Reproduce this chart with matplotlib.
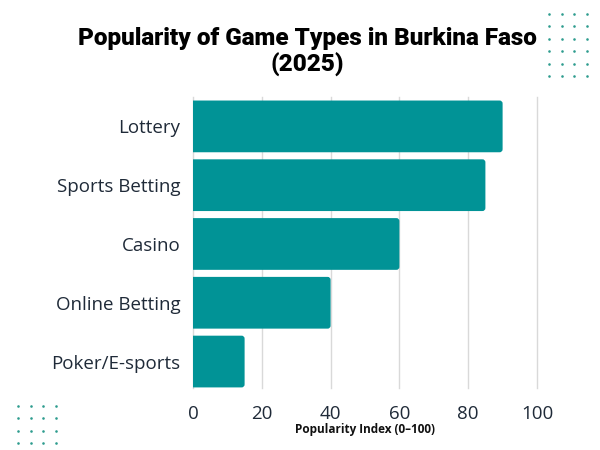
import numpy as np
import matplotlib
matplotlib.use("Agg")
import matplotlib.pyplot as plt
from matplotlib.patches import FancyBboxPatch

categories = ["Lottery", "Sports Betting", "Casino", "Online Betting", "Poker/E-sports"]
popularity = [90, 85, 60, 40, 15]
x_ticks = [0, 20, 40, 60, 80, 100]

TEAL = "#019396"
DOT = "#2e9c8e"
TXT = "#1f2a38"
LABEL_FONT = ["Open Sans", "DejaVu Sans"]
TITLE_FONT = ["Roboto", "DejaVu Sans"]

fig = plt.figure(figsize=(6, 4.5), dpi=100)
ax = fig.add_axes([193 / 600, 1 - 388 / 450, (537 - 193) / 600, 291 / 450])

y = np.arange(len(categories))[::-1]
bars = ax.barh(y, popularity, height=0.88, color=TEAL)
# swap the plain bars for ones with rounded right-hand corners;
# the left end is pushed past x=0 so the axes clip its rounding away
r = 0.87                      # ~3 px in x units
aspect = (3 / 58.75) / r      # keep the corner round in pixel space
for b in bars:
    b.set_visible(False)
    x0, y0, w, h = b.get_x(), b.get_y(), b.get_width(), b.get_height()
    ax.add_patch(FancyBboxPatch((x0 - 2 * r, y0), w + 2 * r, h,
                                boxstyle="round,pad=0,rounding_size=%.3f" % r,
                                mutation_aspect=aspect, fc=TEAL, ec="none", zorder=2))

ax.set_xlim(0, 100)
ax.set_ylim(-0.45, 4.5)
ax.set_xticks(x_ticks)
ax.set_yticks(y)
ax.set_yticklabels(categories)
ax.tick_params(axis="both", length=0, labelsize=13.5, labelcolor=TXT)
ax.tick_params(axis="y", pad=9)
ax.tick_params(axis="x", pad=12)
for lab in ax.get_xticklabels() + ax.get_yticklabels():
    lab.set_family(LABEL_FONT)
ax.grid(axis="x", color="#d9d9d9", lw=1.0, zorder=0)
for gl in ax.get_xgridlines():
    gl.set_clip_on(False)
ax.set_axisbelow(True)
for s in ax.spines.values():
    s.set_visible(False)
ax.set_xlabel("Popularity Index (0–100)", fontsize=8.5, fontweight="bold", color="#111111",
              family=LABEL_FONT, labelpad=0)

fig.text(0.512, 0.884, "Popularity of Game Types in Burkina Faso\n(2025)", ha="center", va="center",
         fontsize=17.5, fontweight="black", family=TITLE_FONT, color="#000000", linespacing=1.15)

# decorative dot grids (top right, bottom left)
deco = fig.add_axes([0, 0, 1, 1], zorder=-1)
deco.set_xlim(0, 600); deco.set_ylim(450, 0); deco.axis("off")
gx, gy = np.meshgrid(np.linspace(549, 587, 4), np.linspace(14, 76, 6))
deco.scatter(gx.ravel(), gy.ravel(), s=3.5, color=DOT, lw=0)
gx, gy = np.meshgrid(np.linspace(18, 56, 4), np.linspace(406, 443, 4))
deco.scatter(gx.ravel(), gy.ravel(), s=3.5, color=DOT, lw=0)

fig.savefig("out.png", dpi=100)
